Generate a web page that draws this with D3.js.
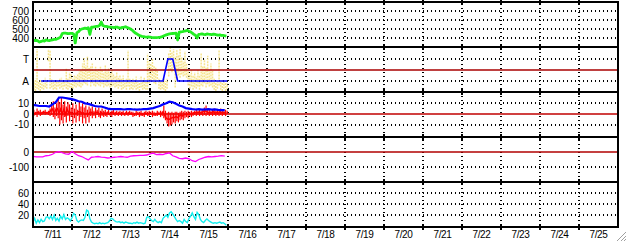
<!DOCTYPE html>
<html><head><meta charset="utf-8">
<script src="https://cdn.jsdelivr.net/npm/d3@7/dist/d3.min.js"></script>
<style>html,body{margin:0;padding:0;background:#fff}svg{display:block}</style>
</head><body>
<svg id="c" width="628" height="244"></svg>
<script>
// ---------- DATA ----------
const dayLabels = ["7/11","7/12","7/13","7/14","7/15","7/16","7/17","7/18","7/19","7/20","7/21","7/22","7/23","7/24","7/25"];
const ticksP1 = [400,500,600,700];
const ticksP2 = ["T","A"];
const ticksP3 = [10,0,-10];
const ticksP4 = [0,-100];
const ticksP5 = [60,40,20];
const catValue = {A:1, T:3};

// hourly, starting 7/11 00:00
const green = [380,372,375,368,355,362,370,366,378,374,372,376,380,384,385,392,400,410,450,455,455,450,448,452,452,445,345,460,470,490,500,505,510,505,515,440,520,522,525,530,530,540,578,538,530,528,525,520,520,518,515,522,520,512,510,518,520,525,515,510,500,488,470,455,445,432,425,418,415,412,410,412,410,406,405,404,405,406,408,412,420,428,435,440,445,448,450,452,455,378,465,468,470,475,480,485,475,468,455,440,430,400,440,442,445,440,438,445,442,440,438,444,440,436,432,435,428,430,425,420];

const yellowLo = [0.2,0.1,0.3,0.2,0.1,0.3,0.2,0.4,0.3,2.8,0.3,0.4,0.2,0.3,0.2,0.5,0.3,0.4,0.2,0.5,0.3,0.2,0.4,0.1,0.3,0.5,0.4,0.6,0.5,0.4,0.6,0.8,0.7,0.6,0.9,0.5,0.8,0.6,0.5,0.7,0.6,0.5,0.7,0.4,0.6,0.5,0.6,0.4,0.5,0.6,0.4,0.5,0.3,0.5,0.2,0.3,0.4,0.2,0.5,0.2,0.3,0.2,0.4,0.2,0.3,0.1,0.4,0.2,0.3,0.2,0.2,0.8,1.0,0.9,0.8,0.7,0.9,0.3,0.2,0.3,0.2,0.1,0.3,1.4,2.0,1.8,2.2,0.4,1.2,1.5,1.3,1.6,1.4,1.5,1.3,0.6,0.3,0.5,0.2,0.4,0.3,0.5,0.2,0.6,0.5,0.8,0.4,0.7,0.5,0.6,0.4,0.2,0.1,0.3,0.6,0.2,0.1,0.3,0.1,0.2];
const yellowHi = [1.0,1.2,3.9,0.9,1.1,1.0,0.8,1.3,1.1,3.9,3.8,1.2,1.0,0.9,1.1,1.0,1.2,1.3,1.0,1.1,2.2,1.3,1.8,1.6,1.2,1.5,1.4,1.6,1.9,2.0,2.6,3.1,2.4,3.2,2.2,2.4,2.6,2.0,2.3,1.9,2.1,2.3,2.0,1.8,2.4,1.9,2.2,1.7,2.0,1.6,1.5,1.8,1.4,1.6,1.2,1.5,1.1,1.3,3.8,1.2,1.0,1.3,1.1,1.4,1.0,1.2,1.5,1.1,1.3,1.0,3.5,2.8,2.6,3.0,2.4,2.2,2.0,1.2,1.0,1.1,1.3,1.0,1.2,3.5,4.0,3.6,3.9,3.2,3.8,3.4,3.9,3.2,2.8,3.7,2.6,2.0,1.6,2.0,1.5,1.8,1.4,2.0,1.6,3.6,2.4,3.0,2.2,3.3,2.0,2.6,1.9,1.2,1.0,1.1,3.8,1.0,1.1,0.9,1.0,0.8];

// state line (hours from 7/11 00:00, category)
const stateHours = [5,80,83,86,89,119.5];
const stateCats = ["A","A","T","T","A","A"];

// 2-hourly
const blueP3 = [8.5,8,7.5,7.5,7.5,7,9,11,15.5,15.5,15,14.5,14,13,12,11.5,10,9.5,8.5,7.5,7,7,6,5,4.5,4.5,4.6,4.5,4.2,4.5,4.5,4.2,4,4.2,4.5,4.5,5,5.5,6.5,7.5,9,10,11.5,11,9.5,8,7,5.5,5,4.5,4.2,4.5,4,4.2,4.5,4,4.2,3.8,3.5,3.5];

// hourly
const redHi = [4,2,5,3,4,2,3,4,2,3,5,8,12,6,10,14,11,15,9,12,7,11,9,6,10,5,9,4,11,7,10,6,8,4,7,5,7,3,6,4,6,3,5,3,4,2,4,2,3,4,2,3,2,3,2,3,1,3,2,3,2,2,1,3,2,2,3,1,2,3,2,3,2,3,2,1,3,2,3,2,8,3,1,2,1,2,1,2,2,1,2,3,2,3,2,3,2,3,2,3,4,3,5,3,4,6,8,5,4,3,4,5,3,4,3,5,4,3,4,3];
const redLo = [-2,-1,-3,0,-2,-1,0,-1,0,-1,-2,-1,-3,-5,-2,-4,-10,-6,-9,-3,-8,-2,-7,-3,-9,-4,-8,-2,-7,-3,-9,-4,-9,-3,-8,-2,-4,-2,-4,-1,-3,-4,-2,-3,-2,-3,-1,-2,-3,-1,-2,-1,-2,-1,-2,-1,-2,-1,-2,-1,-1,-3,-2,-2,-1,-3,-2,-2,-3,-1,-2,-2,-1,-3,-2,-2,-2,-1,-3,-2,-4,-6,-9,-12,-11,-10,-8,-9,-7,-8,-6,-5,-6,-4,-3,-4,-2,-3,-2,-1,-2,-1,-2,-1,-2,-1,-2,-1,-2,-1,-2,-1,-2,-1,-2,-1,-2,-1,-2,0];

// 2-hourly
const magenta = [-29,-33,-33,-32,-25,-22,-15,-2,2,-5,-12,-15,3,-12,-25,-30,-42,-53,-35,-33,-30,-34,-36,-40,-38,-35,-33,-30,-33,-35,-28,-25,-24,-23,-22,-20,-12,-8,-18,-15,-18,-10,-6,-25,-32,-42,-45,-40,-45,-58,-64,-50,-42,-35,-30,-32,-30,-28,-24,-27];

// hourly
const cyan = [8,14,5,11,6,12,8,9,16,17,13,18,12,20,10,14,9,18,13,21,12,15,13,9,15,23,20,10,7,10,11,10,16,29,27,13,7,5,4,5,4,6,4,5,4,5,6,9,14,13,10,8,7,8,6,7,5,7,6,5,5,4,6,5,7,5,6,5,4,5,16,17,13,10,8,12,8,6,8,6,14,17,20,16,24,26,22,17,12,8,10,8,5,12,8,6,14,18,24,17,12,25,21,12,8,6,10,13,10,8,6,5,6,5,6,7,5,6,4,1];

// ---------- LAYOUT ----------
const W = 628, H = 244, L = 33, R = 618;
const t0 = Date.UTC(2024,6,11);
const hr = h => new Date(t0 + h*3600e3);
const x = d3.scaleUtc().domain([hr(0), hr(360)]).range([L, R]);

const panels = [
  {top:2,   bot:47,  dom:[300,800]},
  {top:47,  bot:92,  dom:[0,4.09]},
  {top:92,  bot:137, dom:[-21.8,20.7]},
  {top:137, bot:182, dom:[-200,100]},
  {top:182, bot:227, dom:[-2,81]}
];
panels.forEach(p => p.y = d3.scaleLinear().domain(p.dom).range([p.bot, p.top]));
const [y1,y2,y3,y4,y5] = panels.map(p => p.y);

const svg = d3.select("#c");
svg.append("rect").attr("width",W).attr("height",H).attr("fill","#fff");
const FONT = "'Liberation Sans', Arial, sans-serif";

// dotted horizontal grid
function hdots(scale, vals){
  svg.append("g").selectAll("line").data(vals).join("line")
    .attr("x1",L+2).attr("x2",R)
    .attr("y1",d=>Math.round(scale(d))).attr("y2",d=>Math.round(scale(d)))
    .attr("stroke","#000").attr("stroke-width",2).attr("stroke-dasharray","1,3")
    .attr("shape-rendering","crispEdges");
}
hdots(y1, ticksP1);
hdots(y2, ticksP2.map(c=>catValue[c]));
hdots(y3, [10,-10]);
hdots(y4, [-100]);
hdots(y5, ticksP5);

// vertical dotted day grid
const dayBounds = d3.utcDay.range(hr(24), hr(360));
svg.append("g").selectAll("line").data(dayBounds).join("line")
  .attr("x1",d=>Math.round(x(d))).attr("x2",d=>Math.round(x(d)))
  .attr("y1",4).attr("y2",227)
  .attr("stroke","#000").attr("stroke-width",2).attr("stroke-dasharray","1,3")
  .attr("shape-rendering","crispEdges");

// ---- Panel 1: green
const lineH = (ys, arr, step) => d3.line().x((d,i)=>x(hr(i*step))).y(d=>ys(d))(arr);
svg.append("path").attr("d", lineH(y1, green, 1))
  .attr("fill","none").attr("stroke","#22ee22").attr("stroke-width",2.8).attr("stroke-linejoin","round");

// ---- Panel 2: yellow scatter bars
svg.append("g").selectAll("line").data(yellowLo).join("line")
  .attr("x1",(d,i)=>x(hr(i+0.5))).attr("x2",(d,i)=>x(hr(i+0.5)))
  .attr("y1",d=>y2(d)).attr("y2",(d,i)=>y2(yellowHi[i]))
  .attr("stroke","#f6e48e").attr("stroke-width",1.5).attr("stroke-dasharray","2,1");
svg.append("line").attr("x1",L).attr("x2",R).attr("y1",y2(2)).attr("y2",y2(2))
  .attr("stroke","#a80000").attr("stroke-width",1.5);
svg.append("path")
  .attr("d", d3.line().x((d,i)=>x(hr(stateHours[i]))).y(d=>y2(catValue[d]))(stateCats))
  .attr("fill","none").attr("stroke","#0000ff").attr("stroke-width",1.6);

// ---- Panel 3: red spikes + blue line
svg.append("line").attr("x1",L).attr("x2",R).attr("y1",y3(0)).attr("y2",y3(0))
  .attr("stroke","#c00000").attr("stroke-width",1.5);
svg.append("g").selectAll("line").data(redHi).join("line")
  .attr("x1",(d,i)=>x(hr(i+0.5))).attr("x2",(d,i)=>x(hr(i+0.5)))
  .attr("y1",d=>y3(d)).attr("y2",(d,i)=>y3(redLo[i]))
  .attr("stroke","#ff0000").attr("stroke-width",1.2);
svg.append("path").attr("d", lineH(y3, redHi.map((d,i)=>(d+redLo[i])/2), 1))
  .attr("fill","none").attr("stroke","#ff0000").attr("stroke-width",1.5);
svg.append("path").attr("d", lineH(y3, blueP3, 2))
  .attr("fill","none").attr("stroke","#0000ff").attr("stroke-width",2.2);

// ---- Panel 4: magenta
svg.append("line").attr("x1",L).attr("x2",R).attr("y1",y4(0)).attr("y2",y4(0))
  .attr("stroke","#b00000").attr("stroke-width",1.5);
svg.append("path").attr("d", lineH(y4, magenta, 2))
  .attr("fill","none").attr("stroke","#ff00ff").attr("stroke-width",1.3);

// ---- Panel 5: cyan
svg.append("path").attr("d", lineH(y5, cyan, 1))
  .attr("fill","none").attr("stroke","#11eeee").attr("stroke-width",1.4);

// frame + separators
svg.append("rect").attr("x",L).attr("y",2).attr("width",R-L).attr("height",225)
  .attr("fill","none").attr("stroke","#000").attr("stroke-width",2);
svg.append("g").selectAll("line").data(panels.slice(1)).join("line")
  .attr("x1",L).attr("x2",R).attr("y1",d=>d.top).attr("y2",d=>d.top)
  .attr("stroke","#000").attr("stroke-width",2);
// small ticks at separators
const sepYs = panels.map(p=>p.top).concat([227]);
sepYs.forEach(sy=>{
  svg.append("g").selectAll("line").data(dayBounds).join("line")
    .attr("x1",d=>Math.round(x(d))).attr("x2",d=>Math.round(x(d)))
    .attr("y1",sy-3).attr("y2",sy+3)
    .attr("stroke","#000").attr("stroke-width",2).attr("shape-rendering","crispEdges");
});

// y labels
function ylabels(scale, vals, fmt){
  svg.append("g").selectAll("text").data(vals).join("text")
    .attr("x",29).attr("y",d=>scale(fmt?fmt(d):d)).attr("dy","0.36em")
    .attr("text-anchor","end").attr("font-family",FONT).attr("font-size",10)
    .attr("fill","#000").text(d=>d);
}
ylabels(y1, ticksP1);
ylabels(y2, ticksP2, c=>catValue[c]);
ylabels(y3, ticksP3);
ylabels(y4, ticksP4);
ylabels(y5, ticksP5);

// x labels centred on each day
svg.append("g").selectAll("text").data(dayLabels).join("text")
  .attr("x",(d,i)=>x(hr(i*24+12))).attr("y",237.5)
  .attr("text-anchor","middle").attr("font-family",FONT).attr("font-size",10)
  .attr("letter-spacing","-0.4").attr("fill","#000").text(d=>d);

// resize grip
const grip = svg.append("g").attr("stroke-width",1);
[[626,232,617,241],[626,236,621,241],[626,239,624,241]].forEach(s=>{
  grip.append("line").attr("x1",s[0]).attr("y1",s[1]).attr("x2",s[2]).attr("y2",s[3]).attr("stroke","#a0a0a0");
});
</script>
</body></html>
